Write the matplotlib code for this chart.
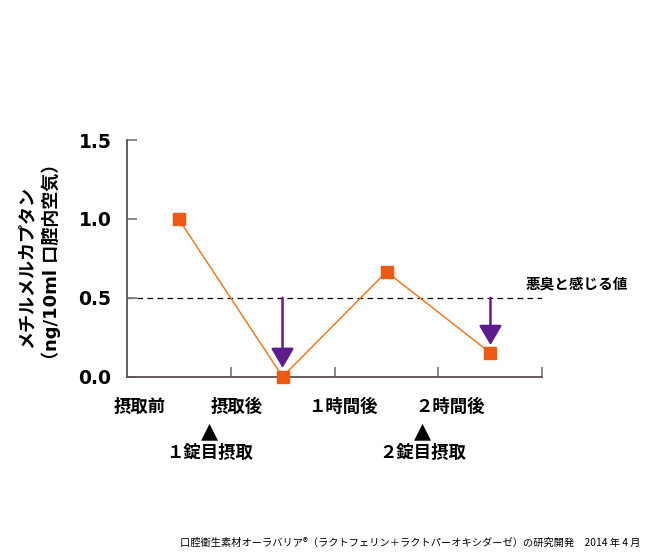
import matplotlib.pyplot as plt

# 測定値 (ng/10ml 口腔内空気)
x_pos = [0.5, 1.5, 2.5, 3.5]
values = [1.0, 0.0, 0.665, 0.15]

cat_labels = ["摂取前", "摂取後", "１時間後", "２時間後"]
cat_label_x = [0.13, 1.06, 2.08, 3.11]

dose_labels = ["１錠目摂取", "２錠目摂取"]
dose_x = [0.80, 2.85]

threshold = 0.5
arrow_x = [1.5, 3.5]
arrow_tip = [0.055, 0.2]

jp = ["Noto Sans CJK JP", "DejaVu Sans"]
lat = ["DejaVu Sans", "Noto Sans CJK JP"]

fig = plt.figure(figsize=(6.46, 5.55), dpi=100)
ax = fig.add_axes([0.196, 0.3213, 0.6437, 0.4264])

ax.plot(x_pos, values, color="#F07A22", lw=1.1, marker="s", markersize=8.5,
        markerfacecolor="#EE5A14", markeredgecolor="#EE5A14", clip_on=False, zorder=3)

ax.axhline(threshold, color="black", lw=0.9, dashes=(4.5, 3.5), zorder=1)
ax.text(3.84, 0.593, "悪臭と感じる値", ha="left", va="center",
        fontsize=10.5, fontweight="bold", family=jp)

for x, tip in zip(arrow_x, arrow_tip):
    ax.annotate("", xy=(x, tip), xytext=(x, threshold),
                arrowprops=dict(arrowstyle="-|>,head_length=12,head_width=7",
                                mutation_scale=1, color="#5E1D8C", lw=1.8,
                                shrinkA=0, shrinkB=0), zorder=4)

ax.set_xlim(0, 4)
ax.set_ylim(0, 1.5)
ax.set_xticks([1, 2, 3, 4])
ax.set_xticklabels([])
ax.set_yticks([0.0, 0.5, 1.0, 1.5])
ax.set_yticklabels(["0.0", "0.5", "1.0", "1.5"], fontsize=13.5, fontweight="bold", family=lat)
ax.tick_params(axis="both", direction="in", length=7, width=1.3, color="#808080")
ax.tick_params(axis="y", pad=11)

for side in ["top", "right"]:
    ax.spines[side].set_visible(False)
for side in ["left", "bottom"]:
    ax.spines[side].set_color("#5A5050")
    ax.spines[side].set_linewidth(1.3)

tr = ax.get_xaxis_transform()
for x, lab in zip(cat_label_x, cat_labels):
    ax.text(x, -0.127, lab, transform=tr, ha="center", va="center",
            fontsize=12.5, fontweight="bold", family=jp)
for x, lab in zip(dose_x, dose_labels):
    ax.text(x, -0.232, "▲", transform=tr, ha="center", va="center",
            fontsize=16, family=lat)
    ax.text(x, -0.323, lab, transform=tr, ha="center", va="center",
            fontsize=12.5, fontweight="bold", family=jp)

fig.text(26 / 646, 1 - 267 / 555, "メチルメルカプタン", rotation=90, ha="center", va="center",
         fontsize=13, fontweight="bold", family=jp)
fig.text(51 / 646, 1 - 262 / 555, "（ng/10ml 口腔内空気）", rotation=90, ha="center", va="center",
         fontsize=13, fontweight="bold", family=lat)

fig.text(640 / 646, 1 - 543 / 555,
         "口腔衛生素材オーラバリア®（ラクトフェリン＋ラクトパーオキシダーゼ）の研究開発　2014 年 4 月",
         ha="right", va="center", fontsize=7.35, family=jp)

fig.savefig("out.png", dpi=100)
